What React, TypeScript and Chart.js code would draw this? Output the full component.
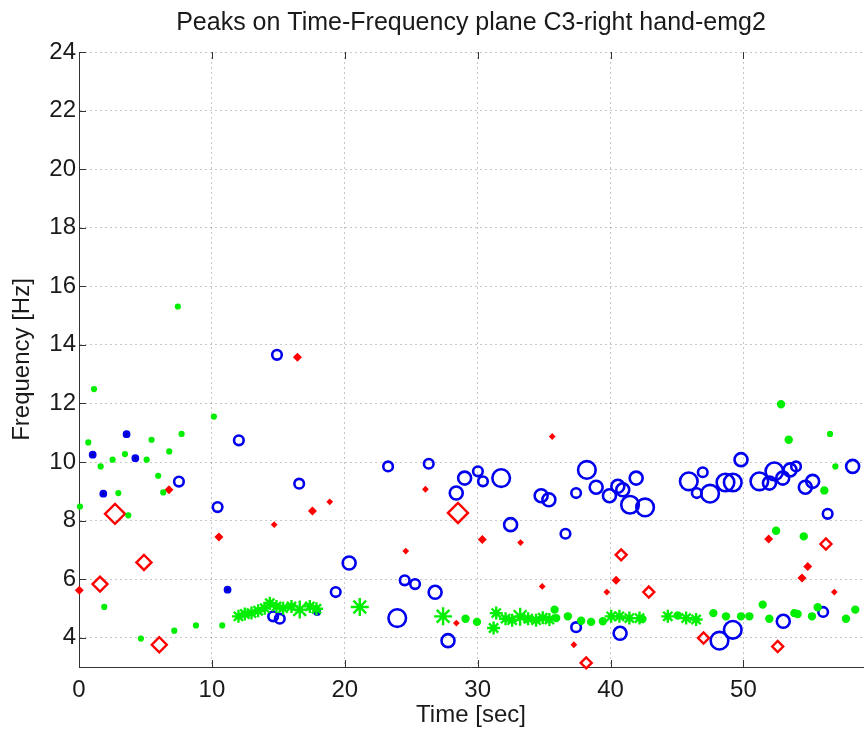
import React, { useEffect, useRef } from "react";
import { Chart, registerables } from "chart.js";

Chart.register(...registerables);

const titleText = "Peaks on Time-Frequency plane C3-right hand-emg2";
const xTitle = "Time [sec]";
const yTitle = "Frequency [Hz]";
const xTicks = [0, 10, 20, 30, 40, 50];
const yTicks = [4, 6, 8, 10, 12, 14, 16, 18, 20, 22, 24];

// Blue peaks (time s, frequency Hz, amplitude class)
const blueTime = [1.03, 1.83, 3.58, 4.24, 7.52, 10.43, 11.18, 12.03, 14.9, 14.61, 15.11, 16.57, 17.92, 19.32, 20.33, 23.26, 23.95, 24.51, 25.29, 26.32, 26.8, 27.77, 28.39, 29.02, 30.02, 30.4, 31.77, 32.48, 34.78, 35.36, 36.61, 37.41, 37.41, 38.22, 38.92, 39.92, 40.55, 40.92, 40.72, 41.47, 41.93, 42.6, 45.89, 46.49, 46.94, 47.49, 48.2, 48.65, 49.2, 49.2, 49.82, 51.2, 51.96, 52.33, 52.96, 53.0, 53.51, 53.96, 54.66, 55.21, 56.0, 56.34, 58.22];
const blueFreq = [10.25, 8.92, 10.95, 10.13, 9.33, 8.46, 5.64, 10.74, 13.66, 4.73, 4.65, 9.26, 4.88, 5.56, 6.55, 9.85, 4.67, 5.96, 5.83, 9.94, 5.55, 3.9, 8.94, 9.45, 9.68, 9.34, 9.45, 7.86, 8.85, 8.71, 7.55, 8.94, 4.36, 9.73, 9.14, 8.85, 9.17, 9.05, 4.15, 8.54, 9.45, 8.45, 9.34, 8.94, 9.65, 8.92, 3.9, 9.3, 9.3, 4.27, 10.08, 9.34, 9.28, 9.68, 9.45, 4.56, 9.73, 9.85, 9.14, 9.34, 4.88, 8.23, 9.85];
const blueAmp = [1, 1, 1, 1, 2, 2, 1, 2, 2, 2, 2, 2, 1, 2, 3, 2, 4, 2, 2, 2, 3, 3, 3, 3, 2, 2, 4, 3, 3, 3, 2, 2, 2, 4, 3, 3, 3, 3, 3, 4, 3, 4, 4, 2, 2, 4, 4, 4, 4, 4, 3, 4, 3, 4, 3, 3, 3, 2, 3, 3, 2, 2, 3];

// Red peaks
const redTime = [0.02, 1.58, 2.71, 4.89, 6.04, 6.77, 10.53, 14.69, 16.44, 17.57, 18.87, 24.59, 26.07, 28.52, 28.4, 30.35, 33.23, 34.86, 35.61, 37.24, 38.17, 39.72, 40.42, 40.8, 42.88, 47.0, 51.9, 52.58, 54.41, 54.84, 56.21, 56.84];
const redFreq = [5.62, 5.83, 8.23, 6.57, 3.76, 9.05, 7.44, 7.86, 13.58, 8.33, 8.64, 6.96, 9.07, 8.26, 4.5, 7.35, 7.25, 5.75, 10.87, 3.76, 3.14, 5.56, 5.96, 6.83, 5.56, 3.99, 7.37, 3.7, 6.04, 6.43, 7.2, 5.56];
const redAmp = [1, 3, 4, 3, 3, 1, 1, 0, 1, 1, 0, 0, 0, 4, 0, 1, 0, 0, 0, 0, 2, 0, 1, 2, 2, 2, 1, 2, 1, 1, 2, 0];

// Green peaks
const greenTime = [0.07, 0.7, 1.13, 1.63, 2.53, 2.96, 3.46, 3.71, 5.09, 5.46, 5.96, 6.34, 6.79, 7.72, 7.44, 10.15, 1.9, 4.66, 7.17, 8.8, 10.78, 12.0, 12.48, 12.98, 13.48, 13.98, 14.36, 14.86, 15.36, 15.99, 16.61, 17.37, 17.87, 21.13, 27.4, 29.09, 29.95, 31.2, 31.4, 32.1, 32.6, 33.2, 33.8, 34.4, 34.9, 35.4, 35.79, 35.91, 36.79, 37.79, 38.54, 39.42, 40.05, 40.67, 41.42, 42.18, 42.4, 44.31, 45.06, 45.69, 46.44, 47.74, 48.69, 49.82, 50.45, 51.45, 51.95, 52.83, 53.41, 52.46, 53.83, 54.08, 54.54, 55.16, 55.59, 56.09, 56.52, 56.92, 57.72, 58.42];
const greenFreq = [8.48, 10.67, 12.49, 9.85, 10.08, 8.94, 10.27, 8.18, 10.08, 10.76, 9.53, 8.96, 10.36, 10.96, 15.31, 11.55, 5.05, 3.97, 4.24, 4.42, 4.42, 4.73, 4.81, 4.84, 4.92, 5.01, 5.18, 5.07, 5.01, 5.07, 4.96, 5.07, 4.99, 5.05, 4.73, 4.65, 4.54, 4.33, 4.84, 4.65, 4.6, 4.72, 4.65, 4.6, 4.68, 4.62, 4.96, 4.67, 4.73, 4.58, 4.54, 4.56, 4.73, 4.73, 4.67, 4.67, 4.64, 4.73, 4.76, 4.67, 4.62, 4.84, 4.73, 4.73, 4.73, 5.13, 4.65, 11.97, 10.76, 7.65, 4.84, 4.81, 7.46, 4.73, 5.04, 9.03, 10.96, 9.85, 4.65, 4.96];
const greenAmp = [0, 0, 0, 0, 0, 0, 0, 0, 0, 0, 0, 0, 0, 0, 0, 0, 0, 0, 0, 0, 0, 2, 2, 2, 2, 2, 2, 2, 2, 2, 3, 2, 2, 3, 3, 1, 1, 2, 2, 2, 2, 3, 2, 2, 2, 2, 1, 1, 1, 1, 1, 1, 2, 2, 2, 2, 1, 2, 1, 2, 2, 1, 1, 1, 1, 1, 1, 1, 1, 1, 1, 1, 1, 1, 1, 1, 0, 0, 1, 1];

const BLUE = "#0000ee";
const RED = "#ff0000";
const GREEN = "#00ee00";
const FONT = "'Liberation Sans', Arial, Helvetica, sans-serif";

const blueRadius = (a: number) => [2, 2.6, 4.8, 6.5, 8.8][a];
const redRadius = (a: number) => [1.7, 2.8, 5.5, 7.5, 10][a];
const greenRadius = (a: number) => [1.9, 3, 6.5, 9][a];

const pts = (t: number[], f: number[]) => t.map((x, i) => ({ x, y: f[i] }));

const decorations = {
  id: "decorations",
  afterDraw(chart: any) {
    const { ctx, chartArea, scales } = chart;
    ctx.save();
    ctx.strokeStyle = "#333";
    ctx.lineWidth = 1;
    ctx.beginPath();
    for (const v of xTicks) {
      const px = Math.round(scales.x.getPixelForValue(v)) + 0.5;
      ctx.moveTo(px, chartArea.bottom);
      ctx.lineTo(px, chartArea.bottom - 7);
      ctx.moveTo(px, chartArea.top);
      ctx.lineTo(px, chartArea.top + 7);
    }
    for (const v of yTicks) {
      const py = Math.round(scales.y.getPixelForValue(v)) + 0.5;
      ctx.moveTo(chartArea.left, py);
      ctx.lineTo(chartArea.left + 7, py);
    }
    ctx.stroke();
    ctx.fillStyle = "#1a1a1a";
    ctx.font = `25px ${FONT}`;
    ctx.textAlign = "center";
    ctx.textBaseline = "middle";
    ctx.fillText(titleText, (chartArea.left + chartArea.right) / 2, 23);
    ctx.restore();
  },
};

export default function App() {
  const ref = useRef<HTMLCanvasElement | null>(null);
  useEffect(() => {
    document.body.style.margin = "0";
    const canvas = ref.current!;
    const chart = new Chart(canvas, {
      type: "scatter",
      data: {
        datasets: [
          {
            data: pts(greenTime, greenFreq),
            borderColor: GREEN,
            backgroundColor: GREEN,
            borderWidth: 2.4,
            pointStyle: (c: any) => (greenAmp[c.dataIndex] >= 2 ? "star" : "circle"),
            pointRadius: (c: any) => greenRadius(greenAmp[c.dataIndex]),
            clip: false,
            order: 1,
          } as any,
          {
            data: pts(redTime, redFreq),
            borderColor: RED,
            backgroundColor: (c: any) => (redAmp[c.dataIndex] >= 2 ? "rgba(255,255,255,0)" : RED),
            borderWidth: 2.4,
            pointStyle: "rectRot",
            pointRadius: (c: any) => redRadius(redAmp[c.dataIndex]),
            clip: false,
            order: 2,
          } as any,
          {
            data: pts(blueTime, blueFreq),
            borderColor: BLUE,
            backgroundColor: (c: any) => (blueAmp[c.dataIndex] <= 1 ? "#0000a0" : "rgba(255,255,255,0)"),
            borderWidth: 2.6,
            pointStyle: "circle",
            pointRadius: (c: any) => blueRadius(blueAmp[c.dataIndex]),
            clip: false,
            order: 3,
          } as any,
        ],
      },
      options: {
        responsive: false,
        animation: false,
        events: [],
        layout: { autoPadding: false, padding: { left: 0, right: 1, top: 52, bottom: 0 } },
        plugins: {
          legend: { display: false },
          tooltip: { enabled: false },
          title: { display: false },
        },
        scales: {
          x: {
            type: "linear",
            min: 0,
            max: 59,
            afterBuildTicks: (s: any) => {
              s.ticks = xTicks.map((v) => ({ value: v }));
            },
            afterFit: (s: any) => {
              s.height = 63;
              s.paddingLeft = 0;
              s.paddingRight = 0;
            },
            grid: { color: "rgba(0,0,0,0.22)", drawTicks: false, lineWidth: 1 },
            border: { display: true, color: "#333", width: 1, dash: [2, 3] },
            ticks: { color: "#1a1a1a", font: { family: FONT, size: 24 }, padding: 9, maxRotation: 0 },
            title: {
              display: true,
              text: xTitle,
              color: "#1a1a1a",
              font: { family: FONT, size: 24 },
              padding: { top: 0, bottom: 0 },
            },
          },
          y: {
            type: "linear",
            min: 3,
            max: 24,
            afterBuildTicks: (s: any) => {
              s.ticks = yTicks.map((v) => ({ value: v }));
            },
            afterFit: (s: any) => {
              s.width = 79;
              s.paddingTop = 0;
              s.paddingBottom = 0;
            },
            grid: { color: "rgba(0,0,0,0.22)", drawTicks: false, lineWidth: 1 },
            border: { display: true, color: "#333", width: 1, dash: [2, 3] },
            ticks: { color: "#1a1a1a", font: { family: FONT, size: 24 }, padding: 3 },
            title: {
              display: true,
              text: yTitle,
              color: "#1a1a1a",
              font: { family: FONT, size: 24 },
              padding: { top: 8, bottom: 0 },
            },
          },
        },
      } as any,
      plugins: [decorations],
    });
    return () => chart.destroy();
  }, []);
  return (
    <div style={{ width: 864, height: 730, background: "#fff" }}>
      <canvas ref={ref} width={864} height={730} style={{ display: "block" }} />
    </div>
  );
}
